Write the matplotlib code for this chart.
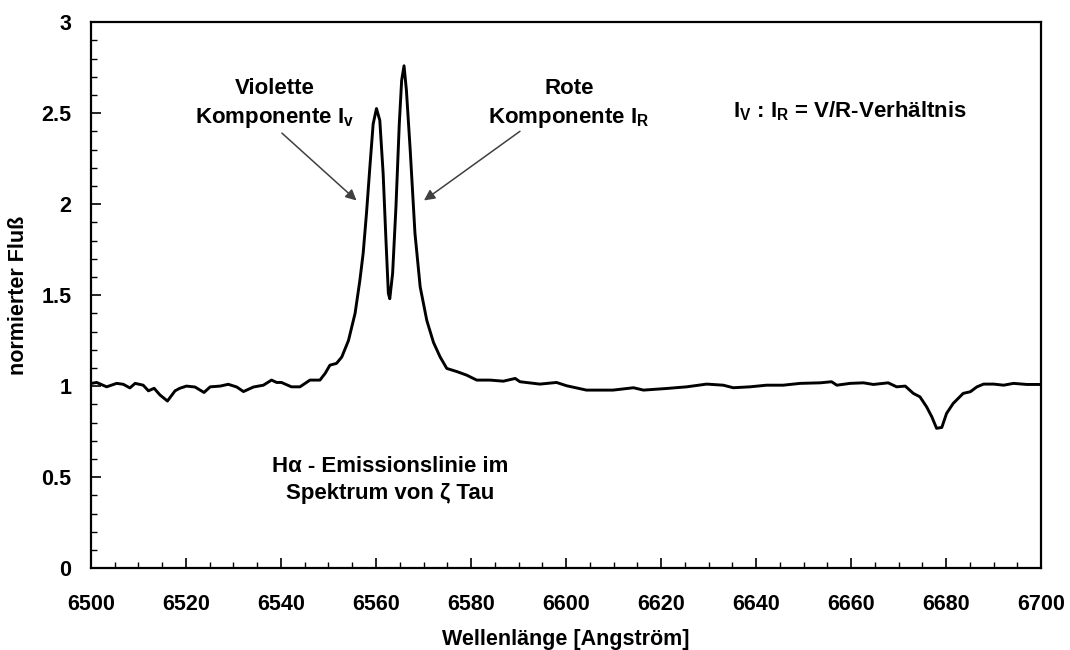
import numpy as np
import matplotlib
matplotlib.use("Agg")
import matplotlib.pyplot as plt
from matplotlib.ticker import MultipleLocator

# spectrum (wavelength in Angstrom, normalised flux)
wavelength = [6500.1, 6501.2, 6503.3, 6505.4, 6506.8, 6508.2, 6509.3, 6511.0, 6512.1, 6513.3,
              6514.5, 6516.1, 6517.7, 6518.7, 6520.1, 6521.9, 6523.8, 6525.1, 6527.2, 6528.9,
              6530.7, 6532.1, 6534.2, 6536.3, 6538.0, 6539.1, 6540.1, 6542.2, 6544.0, 6546.1,
              6548.2, 6549.3, 6550.3, 6551.7, 6552.8, 6554.2, 6555.6, 6556.6, 6557.3, 6558.0,
              6558.7, 6559.4, 6560.1, 6560.8, 6561.5, 6562.1, 6562.6, 6562.9, 6563.5, 6564.2,
              6564.9, 6565.4, 6565.9, 6566.4, 6567.2, 6568.2, 6569.3, 6570.7, 6572.1, 6573.5,
              6574.9, 6577.0, 6579.1, 6581.2, 6584.0, 6586.8, 6589.3, 6590.3, 6594.5, 6598.0,
              6600.1, 6604.3, 6609.9, 6614.2, 6616.3, 6621.2, 6625.4, 6629.6, 6633.1, 6635.2,
              6638.7, 6642.2, 6645.7, 6649.3, 6653.5, 6655.9, 6657.0, 6659.8, 6662.6, 6664.7,
              6667.8, 6669.6, 6671.4, 6673.1, 6674.5, 6675.9, 6677.0, 6678.0, 6679.1, 6680.1,
              6681.5, 6683.6, 6685.1, 6686.5, 6687.9, 6690.0, 6692.1, 6694.2, 6697.0, 6699.8]
flux = [1.015, 1.020, 0.996, 1.015, 1.010, 0.990, 1.015, 1.005, 0.974, 0.988,
        0.952, 0.918, 0.974, 0.988, 1.000, 0.995, 0.965, 0.996, 1.000, 1.010,
        0.995, 0.970, 0.995, 1.005, 1.033, 1.020, 1.020, 0.996, 0.996, 1.033,
        1.033, 1.070, 1.115, 1.125, 1.160, 1.250, 1.400, 1.580, 1.730, 1.950,
        2.200, 2.440, 2.525, 2.460, 2.170, 1.800, 1.510, 1.480, 1.620, 1.985,
        2.440, 2.680, 2.760, 2.626, 2.297, 1.840, 1.545, 1.360, 1.240, 1.160,
        1.097, 1.080, 1.060, 1.033, 1.033, 1.027, 1.042, 1.024, 1.011, 1.020,
        1.002, 0.978, 0.978, 0.991, 0.978, 0.987, 0.996, 1.011, 1.005, 0.991,
        0.996, 1.005, 1.005, 1.015, 1.018, 1.024, 1.005, 1.015, 1.018, 1.009,
        1.018, 0.996, 1.000, 0.960, 0.941, 0.886, 0.831, 0.768, 0.773, 0.850,
        0.905, 0.960, 0.969, 0.996, 1.011, 1.011, 1.005, 1.015, 1.009, 1.009]

plt.rcParams['font.family'] = ['Liberation Sans', 'DejaVu Sans']
plt.rcParams['font.weight'] = 'bold'
plt.rcParams['mathtext.fontset'] = 'custom'
plt.rcParams['mathtext.rm'] = 'Liberation Sans:bold'
plt.rcParams['mathtext.it'] = 'Liberation Sans:bold'
plt.rcParams['mathtext.bf'] = 'Liberation Sans:bold'

fig = plt.figure(figsize=(10.7, 6.5), dpi=100)
ax = fig.add_axes([0.085, 0.126, 0.888, 0.840])

ax.plot(wavelength, flux, color='black', lw=2.1)

ax.set_xlim(6500, 6700)
ax.set_ylim(0, 3)
ax.xaxis.set_major_locator(MultipleLocator(20))
ax.xaxis.set_minor_locator(MultipleLocator(5))
ax.yaxis.set_major_locator(MultipleLocator(0.5))
ax.yaxis.set_minor_locator(MultipleLocator(0.1))
ax.set_yticks([0, 0.5, 1, 1.5, 2, 2.5, 3], ['0', '0.5', '1', '1.5', '2', '2.5', '3'])
ax.tick_params(which='both', direction='in', labelsize=15.5)
ax.tick_params(which='major', length=7, width=1.2)
ax.tick_params(which='minor', length=4, width=1)
ax.tick_params(axis='x', pad=19)
ax.tick_params(axis='y', pad=14)
for s in ax.spines.values():
    s.set_linewidth(1.6)

ax.set_xlabel('Wellenlänge [Angström]', fontsize=15.5, fontweight='bold', labelpad=10)
ax.set_ylabel('normierter Fluß', fontsize=15.5, fontweight='bold', labelpad=9)

txt = dict(fontsize=16, fontweight='bold', ha='center', va='center', linespacing=1.4)
arrow = dict(arrowstyle='-|>', color='#404040', lw=1.1, mutation_scale=16, shrinkA=0, shrinkB=0)

ax.text(6538.7, 2.55, 'Violette\nKomponente I$_\\mathrm{v}$', **txt)
ax.text(6600.6, 2.55, 'Rote\nKomponente I$_\\mathrm{R}$', **txt)
ax.annotate('', xy=(6555.9, 2.02), xytext=(6540.2, 2.39), arrowprops=arrow)
ax.annotate('', xy=(6570.1, 2.02), xytext=(6590.3, 2.40), arrowprops=arrow)
ax.text(6659.8, 2.51, 'I$_\\mathrm{V}$ : I$_\\mathrm{R}$ = V/R-Verhältnis', **txt)
ax.text(6563.0, 0.485, 'Hα - Emissionslinie im\nSpektrum von ζ Tau', **txt)

fig.savefig('out.png', dpi=100)
